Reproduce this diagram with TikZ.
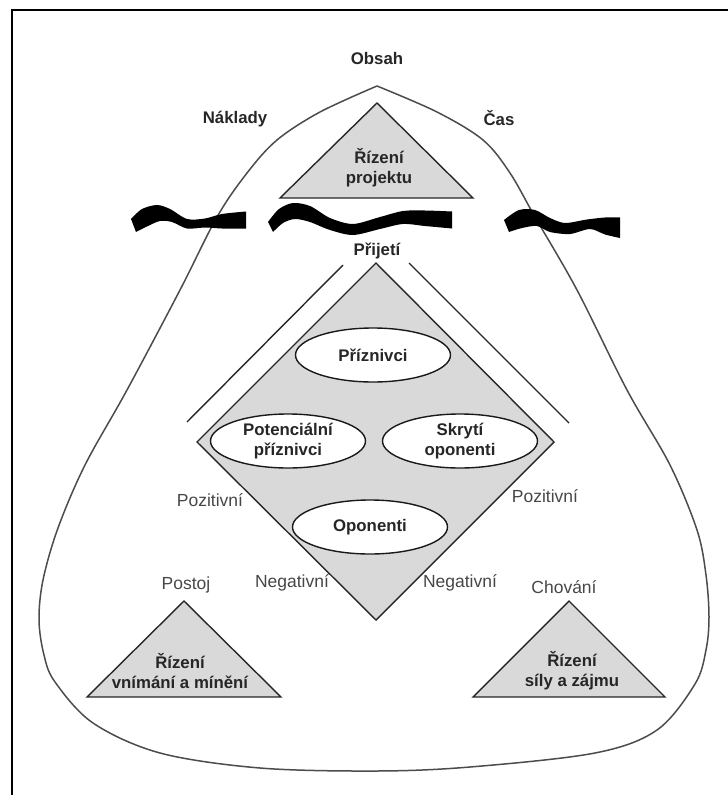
\documentclass[tikz,border=0pt]{standalone}
\usepackage{fontspec}
\setmainfont{Liberation Sans}
\usetikzlibrary{shapes.geometric}
\begin{document}
\begin{tikzpicture}[x=1pt,y=-1pt,
  lbl/.style={font=\fontsize{17.5}{20}\selectfont, text=black!72, inner sep=0pt},
  blbl/.style={font=\fontsize{16.8}{20}\selectfont\bfseries, text=black!85, inner sep=0pt, align=center},
  ell/.style={ellipse, draw=black!90, line width=1.4pt, fill=white, minimum width=155pt, minimum height=54pt, inner sep=0pt, align=center, font=\fontsize{16.8}{20}\selectfont\bfseries, text=black!85},
  tri/.style={draw=black!85, line width=1.4pt, fill=gray!30, line join=miter},
  outline/.style={draw=black!70, line width=1.5pt},
  wave/.style={fill=black},
  frameline/.style={draw=black, line width=2pt}
]
\useasboundingbox (0,0) rectangle (728,795);
% frame (top and left edges only)
\coordinate (fTR) at (728,10);
\coordinate (fTL) at (12,10);
\coordinate (fBL) at (12,795);
\draw[frameline] (fTR) -- (fTL) -- (fBL);

% big rounded outline
\draw[outline] plot[smooth, tension=0.55] coordinates {(377,86) (320,112) (277,140) (247,173) (217,217) (180,290) (127,390) (85,465) (58,528) (43,580) (39,620) (44,655) (55,682) (93,723) (160,753) (260,768) (377,771) (470,767) (595,753) (657,730) (695,684) (706,650) (709,617) (706,575) (697,530) (670,465) (627,390) (577,290) (535,217) (510,173) (483,140) (437,112) (377,86)};

% waves
\fill[wave] plot[smooth] coordinates {(131,219) (142,209) (157,205) (170,209) (187,219) (205,218.5) (222,214) (246,211.5)}
  -- plot[smooth] coordinates {(246,228.5) (222,228.5) (205,227.5) (187,228.5) (172,222) (160,221) (148,226) (136,232)} -- cycle;
\fill[wave] plot[smooth] coordinates {(268,222) (279,209) (293,203) (310,206) (330,218) (353,224) (380,217) (403,211) (425,210.5) (452,211.5)}
  -- plot[smooth] coordinates {(452,228.5) (425,226) (403,224) (380,229) (353,235) (330,230) (310,222) (295,219) (283,223) (273,232)} -- cycle;
\fill[wave] plot[smooth] coordinates {(504,220) (519,210) (535,210) (550,218) (565,223) (587,219.5) (605,217.5) (620,217.5)}
  -- plot[smooth] coordinates {(620,238) (605,234.5) (590,229) (570,234) (550,232) (537,226) (522,228) (509,232)} -- cycle;

% top triangle
\coordinate (tA) at (377,103);
\coordinate (tL) at (280,198);
\coordinate (tR) at (473,198);
\draw[tri] (tA) -- (tL) -- (tR) -- cycle;
\node[blbl] (tTxt) at (379,168) {Řízení\\projektu};

% labels top
\node[blbl] (obsah) at (377,58) {Obsah};
\node[blbl] (naklady) at (235,119) {Náklady};
\node[blbl] (cas) at (499,118) {Čas};
\node[blbl] (prijeti) at (377,251) {Přijetí};

% parallel lines
\coordinate (pl1) at (343,265);
\coordinate (pl2) at (187,422);
\coordinate (pr1) at (409,263);
\coordinate (pr2) at (569,423);
\draw[black!85, line width=1.4pt] (pl1) -- (pl2);
\draw[black!85, line width=1.4pt] (pr1) -- (pr2);

% diamond
\coordinate (dT) at (376,263);
\coordinate (dL) at (197,442);
\coordinate (dB) at (376,620);
\coordinate (dR) at (554,442);
\draw[tri] (dT) -- (dR) -- (dB) -- (dL) -- cycle;

% ellipses
\node[ell] (e1) at (373,355) {Příznivci};
\node[ell] (e2) at (288,441) {Potenciální\\příznivci};
\node[ell] (e3) at (460,441) {Skrytí\\oponenti};
\node[ell] (e4) at (370,527) {Oponenti};

% side labels
\node[lbl] (pozL) at (210,500) {Pozitivní};
\node[lbl] (pozR) at (545,496) {Pozitivní};
\node[lbl] (negL) at (292,583) {Negativní};
\node[lbl] (negR) at (460,583) {Negativní};
\node[lbl] (postoj) at (186,585) {Postoj};
\node[lbl] (chovani) at (564,587) {Chování};

% bottom triangles
\coordinate (lA) at (184,601);
\coordinate (lL) at (87,697);
\coordinate (lR) at (281,697);
\draw[tri] (lA) -- (lL) -- (lR) -- cycle;
\node[blbl] (lTxt) at (180,671) {Řízení\\vnímání a mínění};

\coordinate (rA) at (569,601);
\coordinate (rL) at (473,697);
\coordinate (rR) at (665,697);
\draw[tri] (rA) -- (rL) -- (rR) -- cycle;
\node[blbl] (rTxt) at (572,671) {Řízení\\síly a zájmu};
\end{tikzpicture}
\end{document}
